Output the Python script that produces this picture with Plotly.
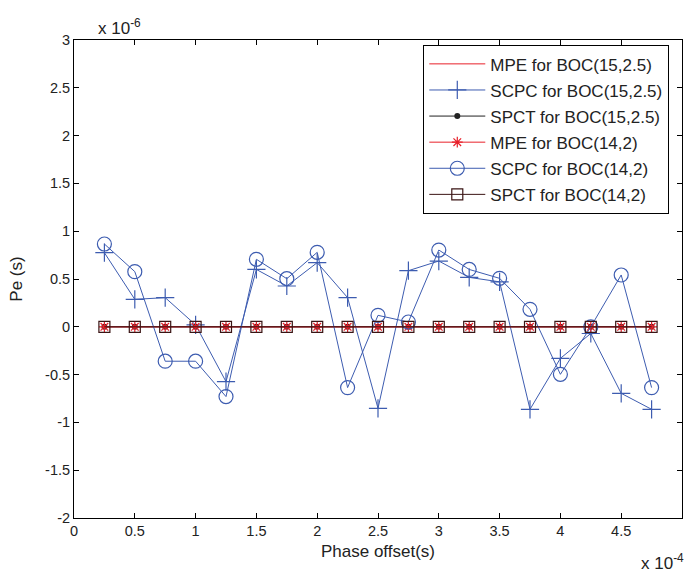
import plotly.graph_objects as go

# Phase offset in units of 1e-4 s
phase_offset = [0.25, 0.5, 0.75, 1.0, 1.25, 1.5, 1.75, 2.0, 2.25, 2.5,
                2.75, 3.0, 3.25, 3.5, 3.75, 4.0, 4.25, 4.5, 4.75]

# Pe values in units of 1e-6 s
mpe_15_25 = [0.0] * 19
scpc_15_25 = [0.775, 0.287, 0.305, 0.02, -0.574, 0.60, 0.427, 0.671, 0.305, -0.853,
              0.587, 0.688, 0.517, 0.47, -0.863, -0.33, -0.07, -0.696, -0.863]
spct_15_25 = [0.0] * 19
mpe_14_2 = [0.0] * 19
scpc_14_2 = [0.866, 0.577, -0.36, -0.36, -0.73, 0.706, 0.503, 0.779, -0.636, 0.12,
             0.05, 0.803, 0.60, 0.507, 0.183, -0.497, 0.0, 0.542, -0.636]
spct_14_2 = [0.0] * 19

x_ticks = [0, 0.5, 1, 1.5, 2, 2.5, 3, 3.5, 4, 4.5, 5]
x_tick_labels = ["0", "0.5", "1", "1.5", "2", "2.5", "3", "3.5", "4", "4.5", "5"]
y_ticks = [-2, -1.5, -1, -0.5, 0, 0.5, 1, 1.5, 2, 2.5, 3]
y_tick_labels = ["-2", "-1.5", "-1", "-0.5", "0", "0.5", "1", "1.5", "2", "2.5", "3"]

RED = "#e8202a"
BLUE = "#3d5cb0"
BLACK = "#222222"

fig = go.Figure()

fig.add_trace(go.Scatter(x=phase_offset, y=mpe_15_25, mode="lines",
                         name="MPE for BOC(15,2.5)", legendgroup="a",
                         line=dict(color=RED, width=1)))
fig.add_trace(go.Scatter(x=phase_offset, y=scpc_15_25, mode="lines+markers",
                         name="SCPC for BOC(15,2.5)", legendgroup="b",
                         line=dict(color=BLUE, width=1),
                         marker=dict(symbol="cross-thin", size=13,
                                     line=dict(color=BLUE, width=1.2))))
fig.add_trace(go.Scatter(x=phase_offset, y=spct_15_25, mode="lines+markers",
                         name="SPCT for BOC(15,2.5)", legendgroup="c",
                         line=dict(color=BLACK, width=1),
                         marker=dict(symbol="circle", size=6, color=BLACK)))
fig.add_trace(go.Scatter(x=phase_offset, y=mpe_14_2, mode="lines+markers",
                         name="MPE for BOC(14,2)", legendgroup="d",
                         line=dict(color=RED, width=1),
                         marker=dict(symbol="asterisk-open", size=9,
                                     line=dict(color=RED, width=1.2))))
fig.add_trace(go.Scatter(x=phase_offset, y=scpc_14_2, mode="lines+markers",
                         name="SCPC for BOC(14,2)", legendgroup="e",
                         line=dict(color=BLUE, width=1),
                         marker=dict(symbol="circle-open", size=14,
                                     line=dict(color=BLUE, width=1.2))))
fig.add_trace(go.Scatter(x=phase_offset, y=spct_14_2, mode="lines+markers",
                         name="SPCT for BOC(14,2)", legendgroup="f",
                         line=dict(color="#3a1414", width=1),
                         marker=dict(symbol="square-open", size=11,
                                     line=dict(color="#333333", width=1.2))))

font_family = "Liberation Sans, Arial, sans-serif"

fig.update_layout(
    width=686, height=578,
    margin=dict(l=74, r=4, t=40, b=60),
    paper_bgcolor="white", plot_bgcolor="white",
    font=dict(family=font_family, size=14.5, color="#222222"),
    showlegend=True,
    legend=dict(x=0.9786, y=0.9895, xanchor="right", yanchor="top",
                bordercolor="black", borderwidth=1.3, bgcolor="white",
                font=dict(size=17), tracegroupgap=1, traceorder="grouped",
                itemwidth=56),
    xaxis=dict(range=[0, 5], tickvals=x_ticks, ticktext=x_tick_labels,
               ticks="inside", ticklen=5, tickcolor="black",
               showline=True, linecolor="black", linewidth=1, mirror="ticks",
               showgrid=False, zeroline=False,
               title=dict(text="Phase offset(s)", standoff=6)),
    yaxis=dict(range=[-2, 3], tickvals=y_ticks, ticktext=y_tick_labels,
               ticks="inside", ticklen=5, tickcolor="black",
               showline=True, linecolor="black", linewidth=1, mirror="ticks",
               showgrid=False, zeroline=False,
               title=dict(text="Pe (s)", standoff=18)),
    annotations=[
        dict(text="x 10<sup>-6</sup>", xref="paper", yref="paper",
             x=0.036, y=1.0, xanchor="left", yanchor="bottom",
             showarrow=False, font=dict(size=17)),
        dict(text="x 10<sup>-4</sup>", xref="paper", yref="paper",
             x=1.0066, y=-0.065, xanchor="right", yanchor="top",
             showarrow=False, font=dict(size=17)),
    ],
)

fig.write_html("out.html")
